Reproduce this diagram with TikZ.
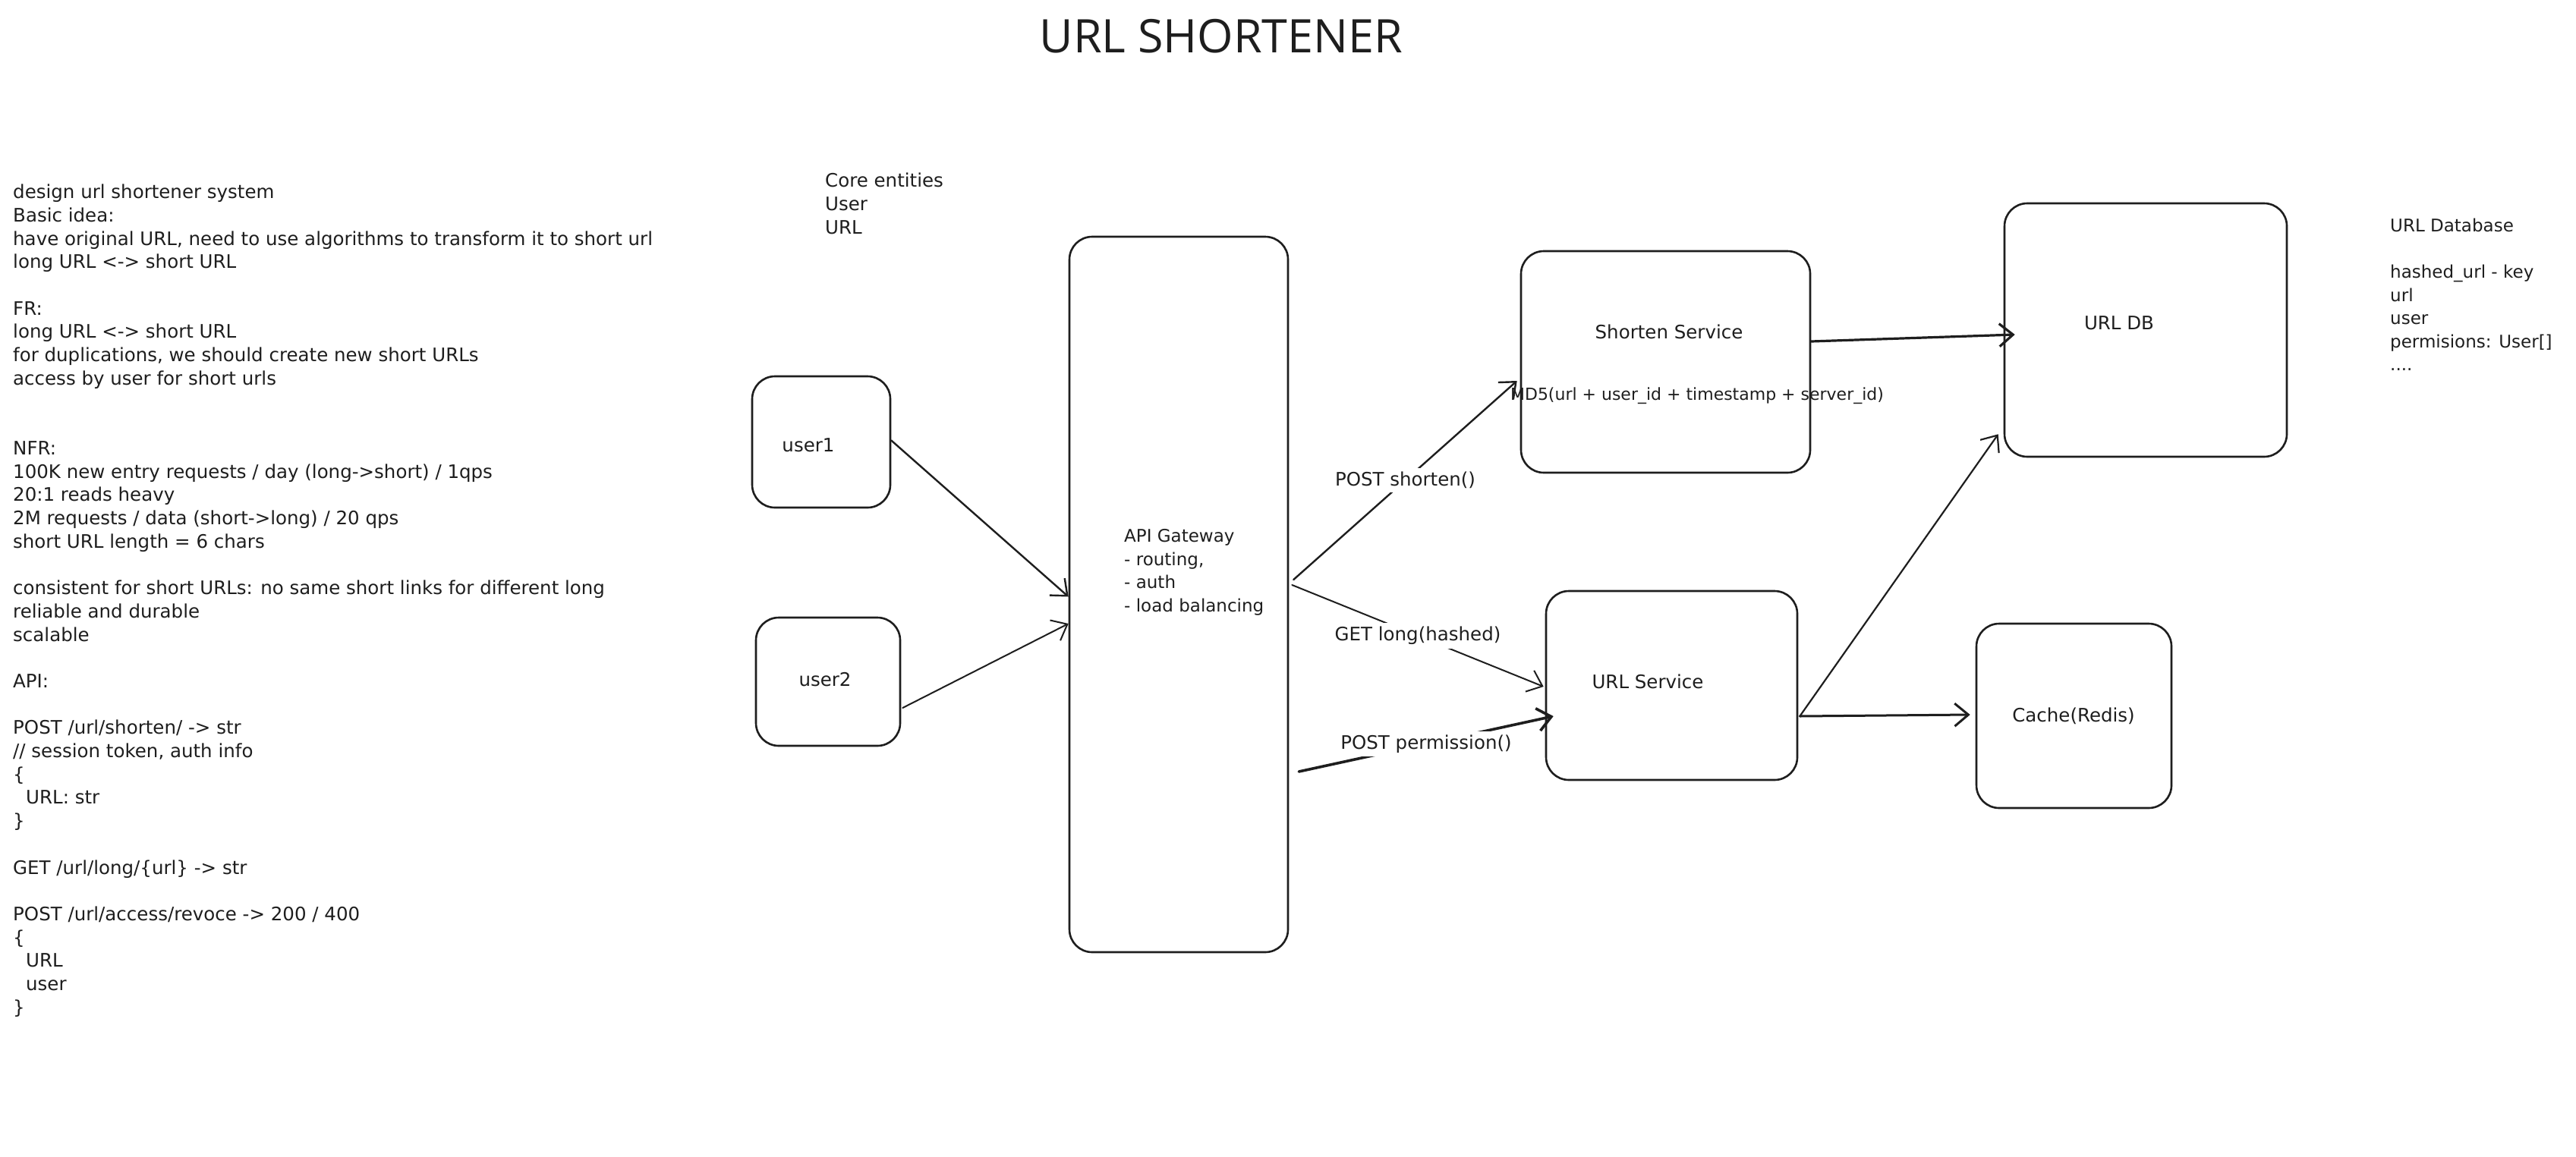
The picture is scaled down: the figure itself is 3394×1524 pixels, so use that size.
\documentclass[tikz,border=0pt]{standalone}
\usepackage{fontspec}
\setmainfont{DejaVu Sans}
\newfontfamily\titlefont{Open Sans}
\usetikzlibrary{arrows.meta,calc}
\definecolor{ink}{HTML}{1E1E1E}
\tikzset{
  box/.style={draw=ink, line width=2.6pt, rounded corners=30pt, inner sep=0pt},
  hand/.style={font=\fontsize{24.5}{30.7}\selectfont, text=ink, inner sep=0pt},
  smallhand/.style={hand, font=\fontsize{23}{30.5}\selectfont},
  conn/.style={draw=ink, line width=2.4pt, line cap=round, -{Straight Barb[length=18pt,width=30pt]}},
  lbl/.style={hand, fill=white, inner sep=5pt, midway},
}
\begin{document}
\begin{tikzpicture}[x=1pt,y=-1pt]
\useasboundingbox[fill=white] (0,0) rectangle (3394,1524);

% title
\node[font=\titlefont\fontsize{61}{70}\selectfont, text=ink, inner sep=0pt] (title) at (1609,48) {URL SHORTENER};

% notes
\node[hand, anchor=north west, align=left] (notes) at (17,240) {%
\strut design url shortener system\\
\strut Basic idea:\\
\strut have original URL, need to use algorithms to transform it to short url\\
\strut long URL <-> short URL\\
\strut\\
\strut FR:\\
\strut long URL <-> short URL\\
\strut for duplications, we should create new short URLs\\
\strut access by user for short urls\\
\strut\\
\strut\\
\strut NFR:\\
\strut 100K new entry requests / day (long->short) / 1qps\\
\strut 20:1 reads heavy\\
\strut 2M requests / data (short->long) / 20 qps\\
\strut short URL length = 6 chars\\
\strut\\
\strut consistent for short URLs: no same short links for different long\\
\strut reliable and durable\\
\strut scalable\\
\strut\\
\strut API:\\
\strut\\
\strut POST /url/shorten/ -> str\\
\strut // session token, auth info\\
\strut \{\\
\strut \hspace*{17pt}URL: str\\
\strut \}\\
\strut\\
\strut GET /url/long/\{url\} -> str\\
\strut\\
\strut POST /url/access/revoce -> 200 / 400\\
\strut \{\\
\strut \hspace*{17pt}URL\\
\strut \hspace*{17pt}user\\
\strut \}};

\node[hand, anchor=north west, align=left] (entities) at (1087,225) {%
\strut Core entities\\ \strut User\\ \strut URL};

\node[smallhand, anchor=north west, align=left] (dbnotes) at (3149,284) {%
\strut URL Database\\ \strut\\ \strut hashed\_url - key\\ \strut url\\ \strut user\\ \strut permisions: User[]\\ \strut ....};

% boxes
\node[box, minimum width=182pt, minimum height=173pt] (user1) at (1082,582.5) {};
\node[box, minimum width=190pt, minimum height=169pt] (user2) at (1091,898.5) {};
\node[box, minimum width=288pt, minimum height=943pt] (gw) at (1553,783.5) {};
\node[box, minimum width=381pt, minimum height=292pt] (shorten) at (2194.5,477) {};
\node[box, minimum width=331pt, minimum height=249pt] (urlsvc) at (2202.5,903.5) {};
\node[box, minimum width=372pt, minimum height=334pt] (urldb) at (2827,435) {};
\node[box, minimum width=257pt, minimum height=243pt] (cache) at (2732.5,943.5) {};

% box labels
\node[hand] (user1t) at (1065,587) {user1};
\node[hand] (user2t) at (1087,896) {user2};
\node[smallhand, anchor=north west, align=left] (gwt) at (1481,693) {%
\strut API Gateway\\ \strut - routing,\\ \strut - auth\\ \strut - load balancing};
\node[hand] (shortent) at (2199,437) {Shorten Service};
\node[hand, font=\fontsize{22}{28}\selectfont] (md5) at (2236,522) {MD5(url + user\_id + timestamp + server\_id)};
\node[hand] (urlsvct) at (2171,898) {URL Service};
\node[hand] (urldbt) at (2792,426) {URL DB};
\node[hand] (cachet) at (2732,944) {Cache(Redis)};

% connectors
\draw[conn] ([yshift=2pt]user1.east) -- ([yshift=-3pt]gw.west);
\draw[conn, line width=2pt] ([xshift=2pt,yshift=-34.5pt]user2.east) -- ([yshift=-38.5pt]gw.west);
\draw[conn] ([xshift=6pt,yshift=19.5pt]gw.east) -- ([xshift=-4pt,yshift=-25pt]shorten.west)
  node[lbl] (l1) {POST shorten()};
\draw[conn, line width=2pt] ([xshift=4pt,yshift=12.5pt]gw.east) -- ([xshift=-2pt,yshift=-1.5pt]urlsvc.west)
  node[lbl] (l2) {GET long(hashed)};
\draw[conn, line width=3.6pt] ([xshift=13pt,yshift=-233.5pt]gw.east) -- ([xshift=11pt,yshift=-40.5pt]urlsvc.west)
  node[lbl] (l3) {POST permission()};
\draw[conn, line width=3.2pt] ([yshift=27pt]shorten.east) -- ([xshift=15pt,yshift=-6pt]urldb.west);
\draw[conn, line width=2.2pt] ([xshift=2pt,yshift=-40.5pt]urlsvc.east) -- ([xshift=-7pt,yshift=31pt]urldb.south west);
\draw[conn, line width=3pt] ([xshift=2pt,yshift=-40.5pt]urlsvc.east) -- ([xshift=-7pt,yshift=1.5pt]cache.west);
\end{tikzpicture}
\end{document}
